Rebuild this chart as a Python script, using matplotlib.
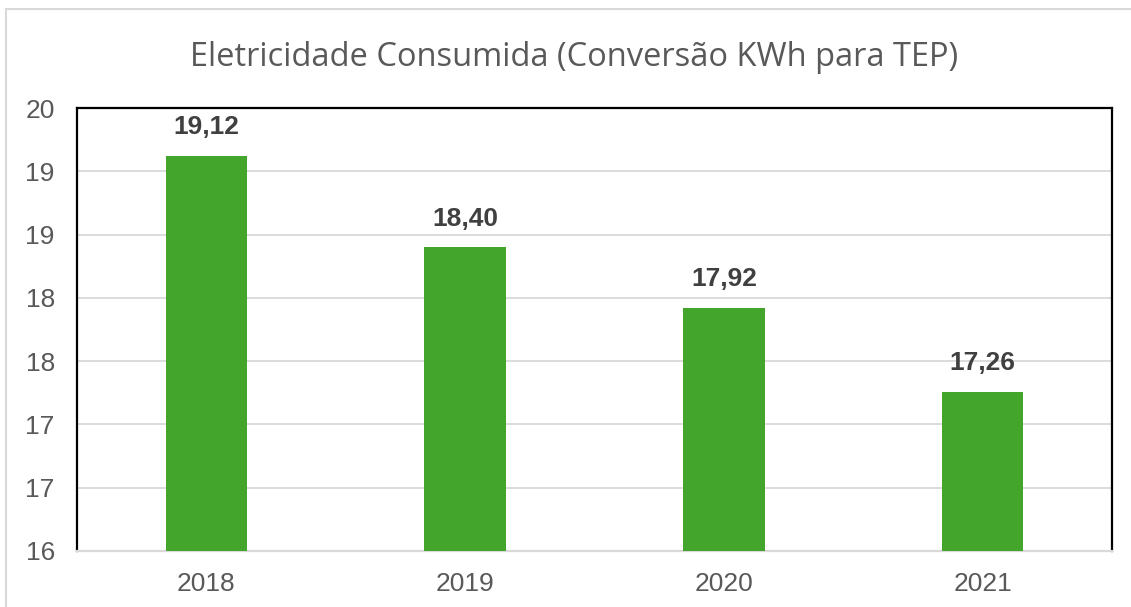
import matplotlib
matplotlib.use("Agg")
import matplotlib.pyplot as plt
from matplotlib.patches import Rectangle
from matplotlib.ticker import MultipleLocator, FuncFormatter

anos = ["2018", "2019", "2020", "2021"]
consumo = [19.12, 18.40, 17.92, 17.26]
titulo = "Eletricidade Consumida (Conversão KWh para TEP)"

verde = "#43a52c"
cinza_txt = "#595959"
cinza_grade = "#d9d9d9"

fig = plt.figure(figsize=(11.31, 6.07), dpi=100)
ax = fig.add_axes([77/1131, 56/607, 1035/1131, 443/607])

x = range(len(anos))
barras = ax.bar(x, consumo, width=0.315, color=verde, zorder=3)

ax.set_xlim(-0.5, len(anos) - 0.5)
ax.set_ylim(16, 19.5)
ax.yaxis.set_major_locator(MultipleLocator(0.5))
# rótulos arredondados como no Excel (meio para cima)
ax.yaxis.set_major_formatter(FuncFormatter(lambda v, p: "%d" % int(v + 0.5)))
ax.set_xticks(list(x))
ax.set_xticklabels(anos)
ax.tick_params(axis="both", length=0, labelsize=19, colors=cinza_txt, labelfontfamily="Liberation Sans")
ax.tick_params(axis="x", pad=15)
ax.tick_params(axis="y", pad=16)
ax.grid(axis="y", color=cinza_grade, linewidth=1.3, zorder=0)

for lado in ["left", "top", "right"]:
    ax.spines[lado].set_color("black")
    ax.spines[lado].set_linewidth(1.6)
ax.spines["bottom"].set_color(cinza_grade)
ax.spines["bottom"].set_linewidth(1.6)

for b, v in zip(barras, consumo):
    ax.annotate(("%.2f" % v).replace(".", ","), (b.get_x() + b.get_width() / 2, v),
                xytext=(0, 12), textcoords="offset points", ha="center", va="bottom",
                fontsize=19, fontweight="bold", color="#404040", family="Liberation Sans")

fig.text(0.508, 0.905, titulo, ha="center", va="center", fontsize=23.5, color=cinza_txt,
         family="Open Sans")

# moldura do gráfico
fig.add_artist(Rectangle((6/1131, -0.1), 1.2, 1.1 - 9/607, transform=fig.transFigure,
                         fill=False, edgecolor=cinza_grade, linewidth=1.5))

fig.savefig("out.png", dpi=100)
